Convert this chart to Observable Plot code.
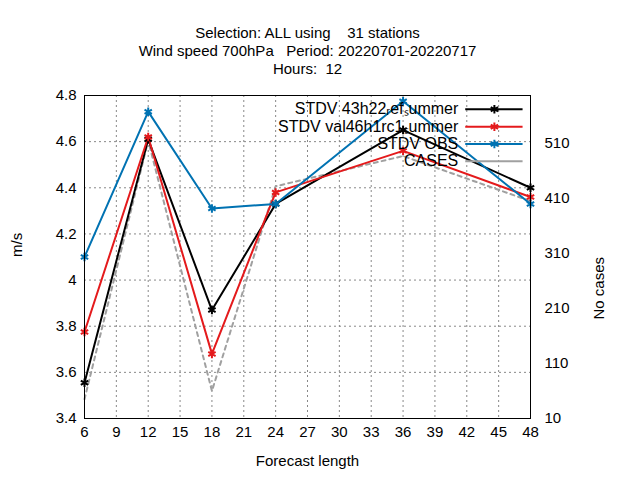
<!DOCTYPE html>
<html><head>
<script src="https://cdn.jsdelivr.net/npm/d3@7"></script>
<script src="https://cdn.jsdelivr.net/npm/@observablehq/plot@0.6"></script>
<style>body{margin:0;background:#fff}svg{font-family:"Liberation Sans",Arial,sans-serif}</style>
</head><body><div id="chart"></div>
<script>
const hours = [6, 12, 18, 24, 36, 48];
const ref = [3.555, 4.61, 3.87, 4.33, 4.65, 4.40];
const val = [3.775, 4.62, 3.68, 4.38, 4.56, 4.36];
const obs = [4.10, 4.73, 4.31, 4.33, 4.775, 4.33];
const cases = [45, 515, 60, 432, 487, 405];
const xTicks = d3.range(6, 49, 3);
const yTicks = [3.4, 3.6, 3.8, 4, 4.2, 4.4, 4.6, 4.8];
const caseTicks = [10, 110, 210, 310, 410, 510];
const titles = ["Selection: ALL using    31 stations", "Wind speed 700hPa   Period: 20220701-20220717", "Hours:  12"];
const names = ["STDV 43h22ᵣefₛummer", "STDV val46h1rc1ₛummer", "STDV OBS", "CASES"];
const colors = ["#000000", "#e41a1c", "#0072b2", "#a0a0a0"];

// cases share the left scale: 10..597 cases over 3.4..4.8
const c2y = c => 3.4 + (c - 10) * 1.4 / 587;

const series = [ref, val, obs];
const lines = series.map((s, k) => hours.map((h, i) => ({h, v: s[i], k})));
const caseData = hours.map((h, i) => ({h, v: c2y(cases[i])}));

const legendY = [4.74, 4.665, 4.59, 4.515];
const legend = names.map((n, k) => ({n, k, y: legendY[k]}));

const chart = Plot.plot({
  width: 640, height: 480,
  marginLeft: 84, marginRight: 110, marginTop: 95, marginBottom: 62,
  style: {fontSize: "15px", fontFamily: "Liberation Sans, Arial, sans-serif"},
  x: {domain: [6, 48], ticks: xTicks, label: null},
  y: {domain: [3.4, 4.8], ticks: yTicks, label: null},
  marks: [
    Plot.gridX(xTicks, {stroke: "#888", strokeOpacity: 1, strokeDasharray: "2,3"}),
    Plot.gridY(yTicks, {stroke: "#888", strokeOpacity: 1, strokeDasharray: "2,3"}),
    Plot.axisX({ticks: xTicks, tickSize: 0, tickPadding: 8, fontSize: 15}),
    Plot.axisY({ticks: yTicks, tickSize: 0, tickPadding: 8, fontSize: 15, tickFormat: d => d3.format("")(+d.toFixed(1))}),
    Plot.axisY({anchor: "right", ticks: caseTicks.map(c2y), tickSize: 0, tickPadding: 14, fontSize: 15,
      tickFormat: (d, i) => caseTicks[i]}),
    Plot.line(caseData, {x: "h", y: "v", stroke: colors[3], strokeWidth: 2, strokeDasharray: "4,4"}),
    ...lines.map((d, k) => Plot.line(d, {x: "h", y: "v", stroke: colors[k], strokeWidth: 2})),
    ...lines.map((d, k) => Plot.dot(d, {x: "h", y: "v", stroke: colors[k], symbol: "asterisk", r: 4, strokeWidth: 2})),
    Plot.text(legend, {x: 41.2, y: "y", text: "n", textAnchor: "end", fontSize: 16}),
    Plot.ruleY(legend, {y: "y", x1: 41.9, x2: 47.3, stroke: d => colors[d.k], strokeWidth: 2,
      strokeDasharray: d => d.k === 3 ? "4,4" : null}),
    Plot.dot(legend.filter(d => d.k < 3), {x: 44.6, y: "y", stroke: d => colors[d.k], symbol: "asterisk", r: 4, strokeWidth: 2}),
    Plot.frame({stroke: "#000"}),
    ...titles.map((t, i) => Plot.text([t], {frameAnchor: "top", dy: -68 + i * 18, text: d => d, fontSize: 15})),
    Plot.text(["Forecast length"], {frameAnchor: "bottom", dy: 47, text: d => d, fontSize: 15}),
    Plot.text(["m/s"], {frameAnchor: "left", dx: -67, rotate: -90, text: d => d, fontSize: 15}),
    Plot.text(["No cases"], {frameAnchor: "right", dx: 69, rotate: -90, text: d => d, fontSize: 15})
  ]
});
document.getElementById("chart").append(chart);
</script>
</body></html>
